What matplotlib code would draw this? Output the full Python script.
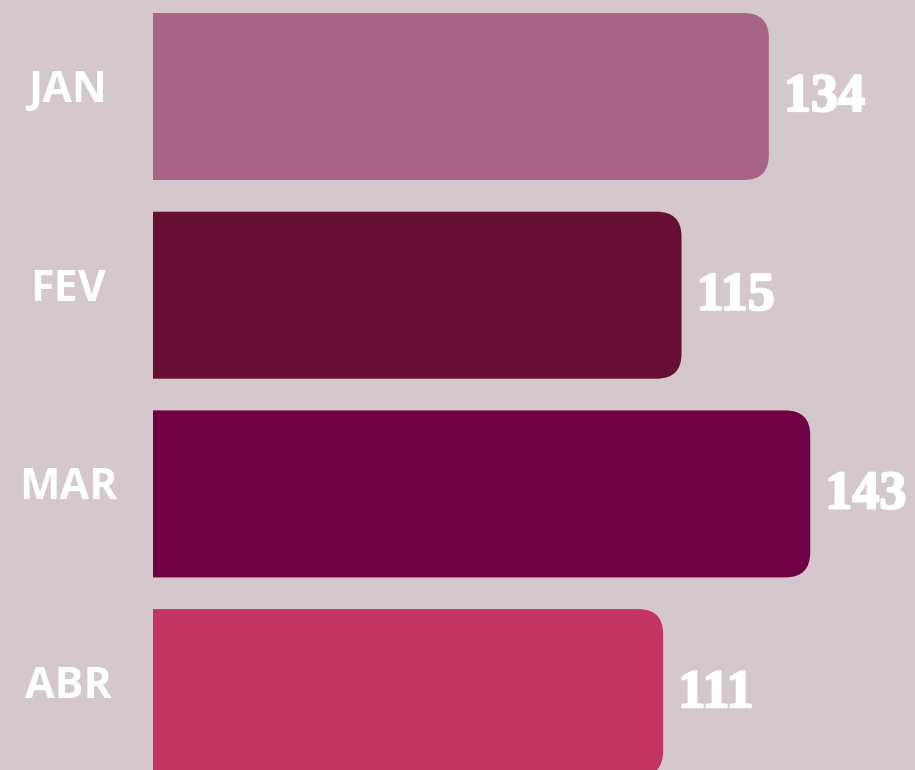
import matplotlib
matplotlib.use("Agg")
import matplotlib.pyplot as plt
from matplotlib.patches import FancyBboxPatch, Rectangle
import matplotlib.patheffects as pe

months = ["JAN", "FEV", "MAR", "ABR"]
values = [134, 115, 143, 111]
colors = ["#A86487", "#660F33", "#6F0042", "#C43462"]
bg = "#D4C8CC"

W, H, DPI = 915, 770, 100
fig = plt.figure(figsize=(W / DPI, H / DPI), dpi=DPI, facecolor=bg)
ax = fig.add_axes([0, 0, 1, 1])
ax.set_facecolor(bg)

px_per_unit = 4.596
x0_px = 153
xmin = -x0_px / px_per_unit
xmax = (W - x0_px) / px_per_unit
ax.set_xlim(xmin, xmax)

row_px = 198.7
c0_px = 96.5
ymin = -c0_px / row_px
ymax = (H - c0_px) / row_px
ax.set_ylim(ymax, ymin)

bar_h = 167 / row_px
r_px = 25
r_x = r_px / px_per_unit
aspect = (r_px / row_px) / r_x

clip = Rectangle((0, ymin - 1), xmax + 10, ymax - ymin + 2, transform=ax.transData)

for i, (v, c) in enumerate(zip(values, colors)):
    p = FancyBboxPatch((-3 * r_x, i - bar_h / 2), v + 3 * r_x, bar_h,
                       boxstyle=f"round,pad=0,rounding_size={r_x}",
                       mutation_aspect=aspect, facecolor=c, edgecolor="none", linewidth=0)
    ax.add_patch(p)
    p.set_clip_path(clip)
    ax.text(v + 15 / px_per_unit, i + 1.5 / row_px, str(v), ha="left", va="center",
            fontsize=39, fontweight="bold", family="Liberation Serif", color="white",
            path_effects=[pe.withStroke(linewidth=1.6, foreground="white")])
    ax.text((68 - x0_px) / px_per_unit, i - 6 / row_px, months[i], ha="center", va="center",
            fontsize=31, fontweight="bold", family="Open Sans", color="white")

ax.axis("off")
fig.savefig("out.png", dpi=DPI, facecolor=bg)
